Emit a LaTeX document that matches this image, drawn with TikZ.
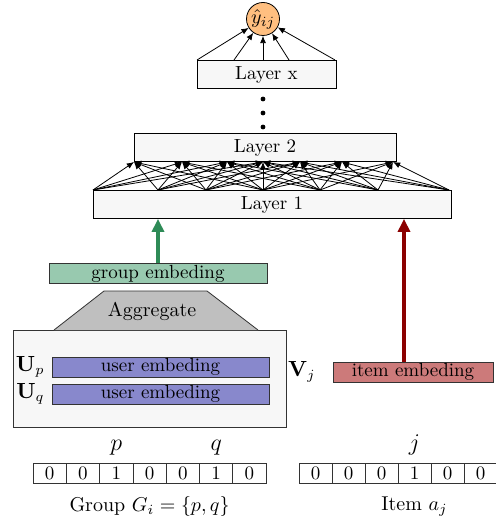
\documentclass[tikz,border=0pt]{standalone}
\usetikzlibrary{positioning,calc,arrows,arrows.meta,shadows}

\definecolor{outc}{RGB}{255,191,128}
\definecolor{grpc}{RGB}{152,201,175}
\definecolor{aggc}{RGB}{191,191,191}
\definecolor{usrc}{RGB}{136,136,204}
\definecolor{itmc}{RGB}{204,122,122}
\definecolor{grpa}{RGB}{46,139,87}
\definecolor{itma}{RGB}{139,0,0}

\begin{document}
\begin{tikzpicture}[x=0.5pt,y=-0.5pt,
  layer/.style={draw,fill=black!3,inner sep=0pt,minimum height=14pt,font=\fontsize{9.5}{11}\selectfont,
    drop shadow={shadow xshift=0.5pt,shadow yshift=-0.5pt,opacity=0.5}},
  emb/.style={draw=black!80,inner sep=0pt,minimum height=10pt,font=\fontsize{9.5}{11}\selectfont},
  cell/.style={draw=black!80,inner sep=0pt,minimum width=16.65pt,minimum height=10pt,font=\fontsize{9.5}{11}\selectfont},
  dot/.style={circle,fill,inner sep=0pt,minimum size=2.4pt},
  fc/.style={->,>={Latex[length=3.6pt,width=3pt]},thin}]
\useasboundingbox (0,0) rectangle (496,523);

% output and hidden layers
\node (y) [circle,draw,fill=outc,inner sep=0pt,minimum size=16.5pt] at (263,19) {$\hat{y}_{ij}$};
\node (lx) [layer,minimum width=69.5pt] at (266.5,74.5) {Layer x};
\node (d1) [dot] at (263,99) {};
\node (d2) [dot] at (263,113) {};
\node (d3) [dot] at (263,127) {};
\node (l2) [layer,minimum width=131pt] at (265,147.5) {Layer 2};
\node (l1) [layer,minimum width=179pt] at (272,204.5) {Layer 1};

\foreach \x [count=\i] in {197,234,263,289,335}
  \draw[fc] (\x,60) -- (y);

% fully connected part
\foreach \x [count=\i from 0] in {93,158,206,263,320,378,449}
  \coordinate (b\i) at (\x,190);
\foreach \x [count=\i from 0] in {134,182,227,263,300,342,393}
  \coordinate (t\i) at (\x,162);
\foreach \i in {0,...,6}
  \foreach \j in {0,...,6}{
    \pgfmathtruncatemacro{\dd}{abs(\i-\j)}
    \ifnum\dd<4 \draw[fc] (b\i) -- (t\j); \fi
  }

% group side
\node (ge) [emb,fill=grpc,minimum width=109pt] at (158,273.5) {group embeding};
\node (ub) [draw=black!80,fill=black!3,minimum width=136.5pt,minimum height=48.5pt] at (149.5,378.5) {};
\fill[aggc] (54,330) -- (104,291) -- (207,291) -- (258,330) -- cycle;
\draw[black!80] (54,330) -- (104,291) -- (207,291) -- (258,330);
\node (ag) at (152,311) {Aggregate};
\node (u1) [emb,fill=usrc,minimum width=108.5pt] at (160.5,367) {user embeding};
\node (u2) [emb,fill=usrc,minimum width=108.5pt] at (160.5,394) {user embeding};
\node (up) [left=0pt of u1,font=\fontsize{10.5}{12}\selectfont] {$\mathbf{U}_p$};
\node (uq) [left=0pt of u2,font=\fontsize{10.5}{12}\selectfont] {$\mathbf{U}_q$};

% item side
\node (ie) [emb,fill=itmc,minimum width=80pt] at (413,372) {item embeding};
\node (vj) [left=5pt of ie,font=\fontsize{10.5}{12}\selectfont] {$\mathbf{V}_j$};

\draw[->,>={Triangle[width=6pt,length=6.5pt]},line width=2pt,color=grpa] (ge) -- (ge |- l1.south);
\draw[->,>={Triangle[width=6pt,length=6.5pt]},line width=1.8pt,color=itma] ([xshift=-4.5pt]ie.north) -- ([xshift=-4.5pt]ie.north |- l1.south);

% one-hot inputs
\foreach \v [count=\i] in {0,0,1,0,0,1,0}
  \node (g\i) [cell] at ({49.65+(\i-1)*33.3},473) {\v};
\foreach \v [count=\i] in {0,0,0,1,0,0}
  \node (a\i) [cell,minimum width=16.5pt] at ({315.5+(\i-1)*33},473) {\v};
\node (p) [above=0pt of g3,font=\large] {$p$};
\node (q) [above=0pt of g6,font=\large] {$q$};
\node (j) [above=0pt of a4,font=\large] {$j$};
\node (gl) [below=3pt of g4] {Group $G_i=\{p,q\}$};
\node (il) [below=3pt of a4] {Item $a_j$};
\end{tikzpicture}
\end{document}
